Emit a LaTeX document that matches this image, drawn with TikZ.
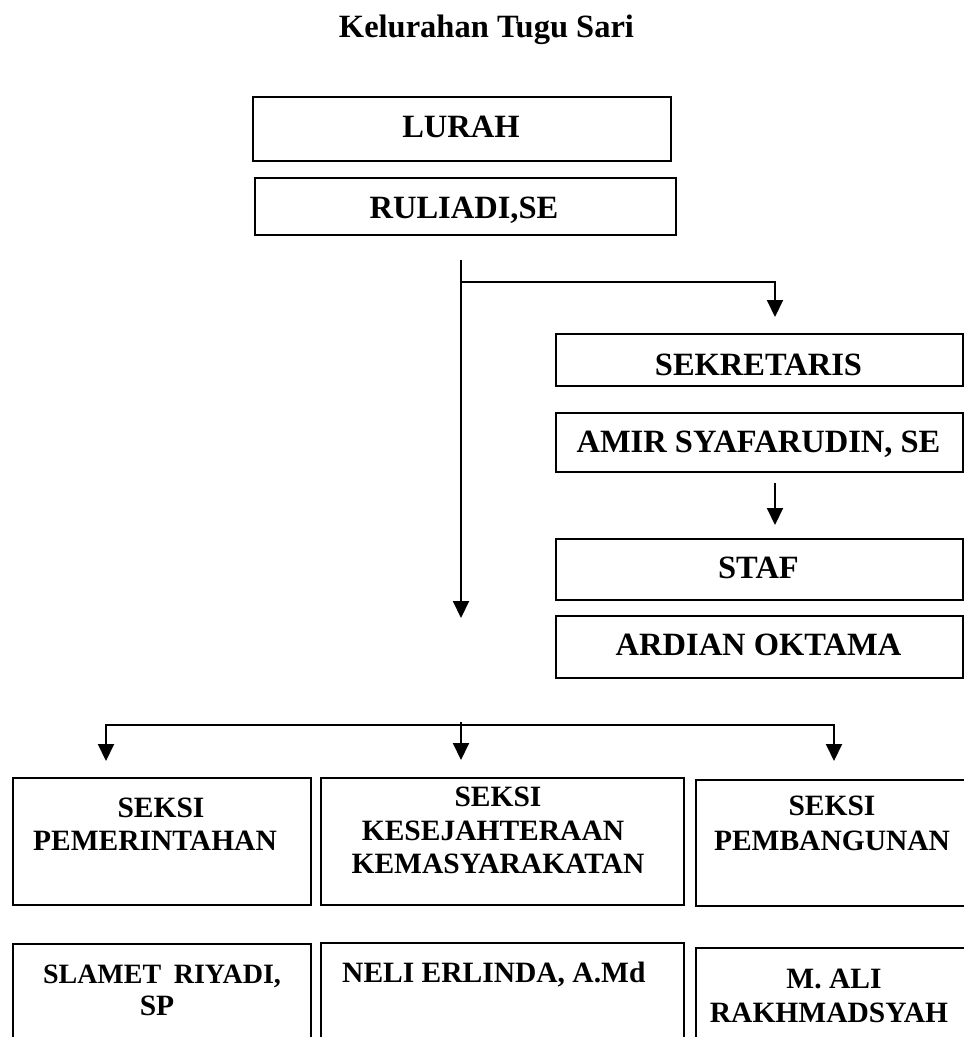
\documentclass[tikz,border=0pt]{standalone}
\usepackage{fontspec}
\setmainfont{Liberation Serif}
\usetikzlibrary{arrows.meta}
\begin{document}
\begin{tikzpicture}[x=1pt,y=-1pt,
  box/.style={draw, line width=2pt, inner sep=0pt, anchor=north west},
  big/.style={font=\fontsize{32.5}{36}\selectfont\bfseries, inner sep=0pt, anchor=base},
  mid/.style={font=\fontsize{29.5}{33}\selectfont\bfseries, inner sep=0pt, anchor=base},
  ttl/.style={font=\fontsize{32.5}{36}\selectfont\bfseries, inner sep=0pt, anchor=base},
  conn/.style={line width=2pt},
  arr/.style={line width=2pt, -{Triangle[length=17pt,width=16pt]}}]
\useasboundingbox (0,0) rectangle (964,1037);
\clip (0,0) rectangle (964,1037);
% title
\node[ttl] (title) at (486.5,37) {Kelurahan Tugu Sari};
% top boxes
\node[box, minimum width=418pt, minimum height=64pt] (lurah) at (252,96) {};
\node[big] (lurahT) at (461,137) {LURAH};
\node[box, minimum width=421pt, minimum height=57pt] (ruli) at (254,177) {};
\node[big] (ruliT) at (464,218) {RULIADI,SE};
% right column
\node[box, minimum width=407pt, minimum height=52pt] (sek) at (555,333) {};
\node[big] (sekT) at (758.5,375) {SEKRETARIS};
\node[box, minimum width=407pt, minimum height=59pt] (amir) at (555,412) {};
\node[big] (amirT) at (758.5,452) {AMIR SYAFARUDIN, SE};
\node[box, minimum width=407pt, minimum height=61pt] (staf) at (555,538) {};
\node[big] (stafT) at (758.5,578) {STAF};
\node[box, minimum width=407pt, minimum height=62pt] (ard) at (555,615) {};
\node[big] (ardT) at (758.5,655) {ARDIAN OKTAMA};
% bottom row 1
\node[box, minimum width=298pt, minimum height=127pt] (pem) at (12,777) {};
\node[mid] (pemT1) at (161,817) {SEKSI};
\node[mid] (pemT2) at (155,850) {PEMERINTAHAN};
\node[box, minimum width=363pt, minimum height=127pt] (kes) at (320,777) {};
\node[mid] (kesT1) at (498,806) {SEKSI};
\node[mid] (kesT2) at (493,840) {KESEJAHTERAAN};
\node[mid] (kesT3) at (498,873) {KEMASYARAKATAN};
\node[box, minimum width=275pt, minimum height=126pt] (pbg) at (695,779) {};
\node[mid] (pbgT1) at (832,815) {SEKSI};
\node[mid] (pbgT2) at (832,850) {PEMBANGUNAN};
% bottom row 2
\node[box, minimum width=298pt, minimum height=110pt] (sla) at (12,943) {};
\node[mid, font=\fontsize{28}{32}\selectfont\bfseries] (slaT1) at (162,983) {SLAMET\hspace{0.45em}RIYADI,};
\node[mid] (slaT2) at (157,1015) {SP};
\node[box, minimum width=363pt, minimum height=110pt] (nel) at (320,942) {};
\node[mid, anchor=base west] (nelT) at (342,982) {NELI ERLINDA, A.Md};
\node[box, minimum width=275pt, minimum height=110pt] (ali) at (695,947) {};
\node[mid] (aliT1) at (834,988) {M. ALI};
\node[mid] (aliT2) at (829,1022) {RAKHMADSYAH};
% connectors
\coordinate (vtop) at (461,260);
\coordinate (vbot) at (461,618);
\coordinate (br) at (461,282);
\coordinate (sekIn) at (775,317);
\coordinate (amirOut) at (775,483);
\coordinate (stafIn) at (775,525);
\draw[arr] (vtop) -- (vbot);
\draw[arr] (br) -| (sekIn);
\draw[arr] (amirOut) -- (stafIn);
\coordinate (busL) at (106,725);
\coordinate (busR) at (834,725);
\coordinate (busC) at (461,722);
\coordinate (pemIn) at (106,761);
\coordinate (kesIn) at (461,760);
\coordinate (pbgIn) at (834,761);
\draw[conn] ([xshift=-1pt]busL) -- ([xshift=1pt]busR);
\draw[arr] (busL) -- (pemIn);
\draw[arr] (busC) -- (kesIn);
\draw[arr] (busR) -- (pbgIn);
\end{tikzpicture}
\end{document}
